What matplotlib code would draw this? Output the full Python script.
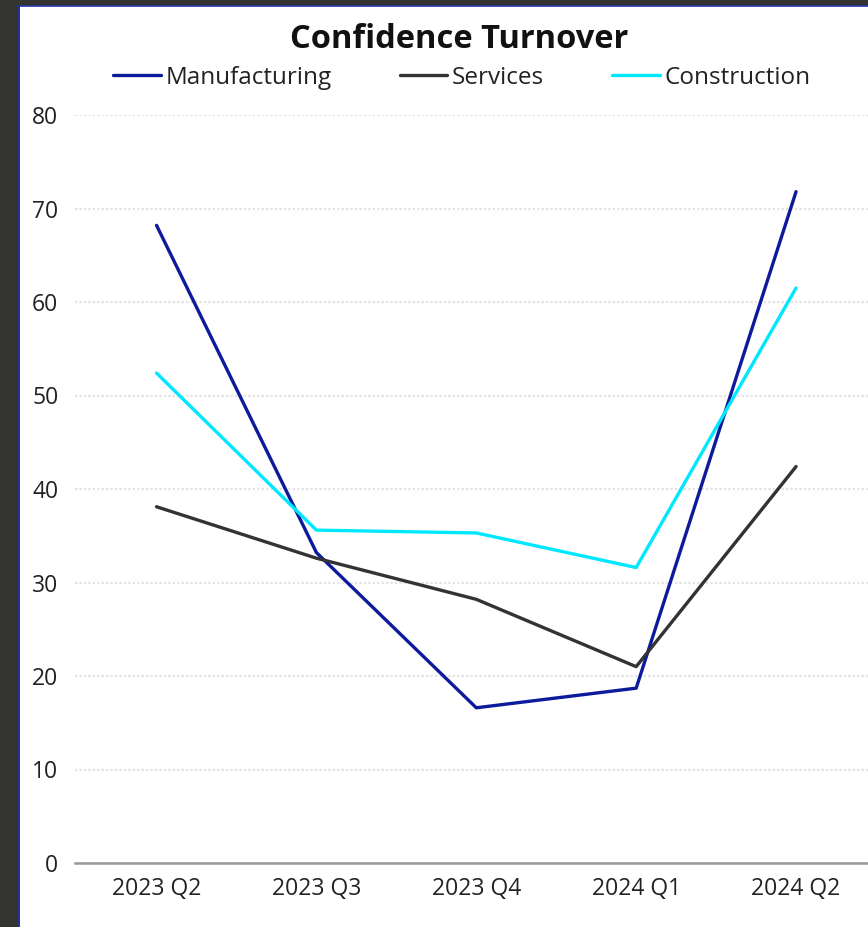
import matplotlib.pyplot as plt
from matplotlib.patches import Rectangle

quarters = ['2023 Q2', '2023 Q3', '2023 Q4', '2024 Q1', '2024 Q2']
manufacturing = [68.2, 33.2, 16.6, 18.7, 71.8]
services = [38.1, 32.6, 28.2, 21.0, 42.4]
construction = [52.4, 35.6, 35.3, 31.6, 61.5]
y_ticks = [0, 10, 20, 30, 40, 50, 60, 70, 80]

plt.rcParams['font.family'] = ['Open Sans', 'DejaVu Sans']

W, H = 868, 927
fig = plt.figure(figsize=(W / 100, H / 100), dpi=100, facecolor='#333430')

# white card with thin blue edge
fig.patches.append(Rectangle((20 / W, 0), 1 - 20 / W, 1 - 6 / H, transform=fig.transFigure,
                             facecolor='white', edgecolor='none', zorder=-5))
fig.lines.append(plt.Line2D([19 / W, 19 / W], [0, 1 - 6 / H], transform=fig.transFigure,
                            color='#2233aa', lw=1.2, zorder=-4))
fig.lines.append(plt.Line2D([19 / W, 1], [1 - 6 / H, 1 - 6 / H], transform=fig.transFigure,
                            color='#2233aa', lw=1.2, zorder=-4))

ax = fig.add_axes([75 / W, 64 / H, 1 - 75 / W, (863 - 115) / H])
ax.set_facecolor('none')

x = range(len(quarters))
ax.plot(x, manufacturing, color='#0c1a9c', lw=2.4, label='Manufacturing', solid_capstyle='round')
ax.plot(x, services, color='#333333', lw=2.4, label='Services', solid_capstyle='round')
ax.plot(x, construction, color='#00e8ff', lw=2.4, label='Construction', solid_capstyle='round')

ax.set_xlim(-0.51, 4.45)
ax.set_ylim(0, 80)
ax.set_yticks(y_ticks)
ax.set_xticks(list(x))
ax.set_xticklabels(quarters)
ax.grid(axis='y', color='#e2e2e2', linestyle=(0, (1, 1)), lw=1.6)
ax.set_axisbelow(True)
for side in ['top', 'right', 'left']:
    ax.spines[side].set_visible(False)
ax.spines['bottom'].set_color('#999999')
ax.spines['bottom'].set_linewidth(1.8)
ax.tick_params(axis='both', length=0, labelsize=16.5, colors='#222222')
ax.tick_params(axis='y', pad=12)
ax.tick_params(axis='x', pad=10)

fig.text(459 / W, 1 - 39 / H, 'Confidence Turnover', ha='center', va='center',
         fontsize=23.5, fontweight='bold', color='#111111')
fig.legend(loc='center', bbox_to_anchor=(462 / W, 1 - 78 / H), ncol=3, frameon=False,
           fontsize=17.5, handlelength=1.95, handletextpad=0.2, columnspacing=2.8,
           labelcolor='#222222')

fig.savefig('out.png', dpi=100)
